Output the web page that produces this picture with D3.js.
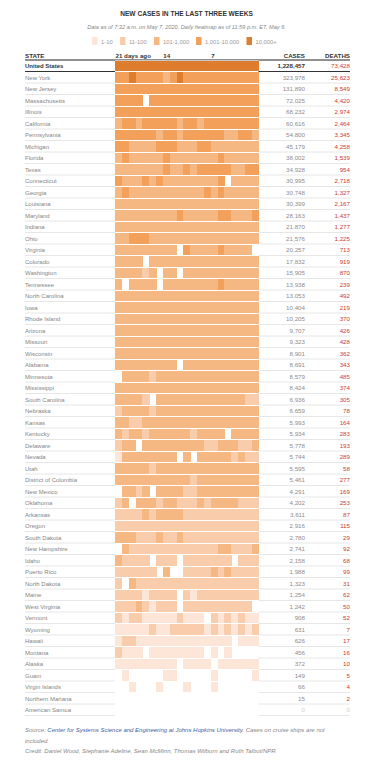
<!DOCTYPE html>
<html><head><meta charset="utf-8">
<script src="https://cdn.jsdelivr.net/npm/d3@7"></script>
<style>
body{margin:0;background:#fff}
svg{display:block}
text{font-family:"Liberation Sans",Arial,Helvetica,sans-serif}
</style>
</head><body>
<svg id="chart" width="373" height="773"></svg>
<script>
// ---------------- DATA ----------------
const titleText = "NEW CASES IN THE LAST THREE WEEKS";
const subtitleText = "Data as of 7:32 a.m. on May 7, 2020. Daily heatmap as of 11:59 p.m. ET, May 6.";
const legendLabels = ["1-10", "11-100", "101-1,000", "1,001-10,000", "10,000+"];
const levelColors = ["#fde6d8", "#f9cdab", "#f6b883", "#f3a05b", "#df7d2e"];
const dayTickIndex = [0, 7, 14];
const dayTickLabels = ["21 days ago", "14", "7"];

const usName = "United States";
const usCases = 1228457;
const usDeaths = 73428;
const usHeat = "5555555 5555555 5555555";

const states = ["New York","New Jersey","Massachusetts","Illinois","California","Pennsylvania","Michigan","Florida","Texas","Connecticut","Georgia","Louisiana","Maryland","Indiana","Ohio","Virginia","Colorado","Washington","Tennessee","North Carolina","Iowa","Rhode Island","Arizona","Missouri","Wisconsin","Alabama","Minnesota","Mississippi","South Carolina","Nebraska","Kansas","Kentucky","Delaware","Nevada","Utah","District of Columbia","New Mexico","Oklahoma","Arkansas","Oregon","South Dakota","New Hampshire","Idaho","Puerto Rico","North Dakota","Maine","West Virginia","Vermont","Wyoming","Hawaii","Montana","Alaska","Guam","Virgin Islands","Northern Mariana","American Samoa"];

const cases = [323978,131890,72025,68232,60616,54800,45179,38002,34928,30995,30748,30399,28163,21870,21576,20257,17832,15905,13938,13053,10404,10205,9707,9323,8901,8691,8579,8424,6936,6659,5993,5934,5778,5744,5595,5461,4291,4202,3611,2916,2780,2741,2158,1988,1323,1254,1242,908,631,626,456,372,149,66,15,0];

const deaths = [25623,8549,4420,2974,2464,3345,4258,1539,954,2718,1327,2167,1437,1277,1225,713,919,870,239,492,219,370,426,428,362,343,485,374,305,78,164,283,193,289,58,277,169,253,87,115,29,92,68,99,31,62,50,52,7,17,16,10,5,4,2,0];

// daily heat level per state, 21 days (oldest first); 0 = no new cases, 1..5 = legend bins
const heat = [
 "4454444 3454444 4444444", // New York
 "4444444 4444444 4444444", // New Jersey
 "4444044 4444444 4444444", // Massachusetts
 "4444444 4444444 4444444", // Illinois
 "3443444 4434434 4444444", // California
 "4444443 4434444 4433443", // Pennsylvania
 "4433334 4433344 3333333", // Michigan
 "3433333 4333333 3433333", // Florida
 "3333333 4334344 4443344", // Texas
 "4333434 3333333 3403333", // Connecticut
 "3433333 3333334 3433333", // Georgia
 "3333333 3333333 3333333", // Louisiana
 "3333333 3343333 3443334", // Maryland
 "3333333 3333333 3333333", // Indiana
 "3344433 3333333 3333333", // Ohio
 "3333333 3304333 3433330", // Virginia
 "3333033 3333333 3333333", // Colorado
 "3333230 3303333 3333333", // Washington
 "3033330 3333333 3433333", // Tennessee
 "3333333 3333333 3333333", // North Carolina
 "3333333 3333333 3333333", // Iowa
 "3333333 3333333 3333333", // Rhode Island
 "3333333 3333333 3333333", // Arizona
 "3333333 3333333 3333333", // Missouri
 "3333333 3333333 3333333", // Wisconsin
 "3333333 3303333 3333333", // Alabama
 "0333323 3333333 3333333", // Minnesota
 "3333333 3333333 3333333", // Mississippi
 "3333203 3333333 3333322", // South Carolina
 "2333323 3333333 3333333", // Nebraska
 "3322333 3333333 3333333", // Kansas
 "3233233 3333233 3303333", // Kentucky
 "2330333 3333332 2333223", // Delaware
 "1333333 3303033 3332322", // Nevada
 "3333323 3333333 3333333", // Utah
 "3333333 3333233 3333333", // District of Columbia
 "0332303 3332233 3333333", // New Mexico
 "2303332 3322232 3333222", // Oklahoma
 "2222323 3332222 2222222", // Arkansas
 "2222222 2222222 2222222", // Oregon
 "3332223 2232222 2222222", // South Dakota
 "0322222 2222222 2332223", // New Hampshire
 "3222202 2202222 2220222", // Idaho
 "2222220 3002222 3232222", // Puerto Rico
 "2032222 2222222 2222222", // North Dakota
 "2222122 2202122 2222222", // Maine
 "2223212 2202222 2222220", // West Virginia
 "2122111 1121110 2121211", // Vermont
 "1111121 1222221 2121212", // Wyoming
 "1221111 1111111 1110111", // Hawaii
 "2111011 1111110 1010000", // Montana
 "1111111 1101111 0111111", // Alaska
 "0100000 1100000 1000001", // Guam
 "0010001 0001000 1000000", // Virgin Islands
 "0000000 0000000 0000000", // Northern Mariana
 "0000000 0000000 0000000"  // American Samoa
];

const sourceLabel = "Source: ";
const sourceLink = "Center for Systems Science and Engineering at Johns Hopkins University";
const sourceRest = ". Cases on cruise ships are not";
const sourceRest2 = "included.";
const creditText = "Credit: Daniel Wood, Stephanie Adeline, Sean McMinn, Thomas Wilburn and Ruth Talbot/NPR";

// ---------------- DRAW ----------------
const svg = d3.select("#chart");
const parse = s => s.replace(/\s/g, "").split("").map(Number);
const fmt = d3.format(",");
const days = d3.range(21);

const L = 25, R = 350, casesX = 305;
const x = d3.scaleBand().domain(days).range([115, 258.5]).padding(0);
const y = d3.scaleBand().domain(states).range([72, 716]).padding(0);
const color = d3.scaleOrdinal().domain([1,2,3,4,5]).range(levelColors);
const bw = y.bandwidth();

// title
svg.append("text").attr("x", 186.5).attr("y", 16).attr("text-anchor", "middle")
  .style("font-family", "'Liberation Sans Narrow','Liberation Sans',Arial,sans-serif")
  .attr("font-weight", "bold").attr("font-size", 6.6).attr("fill", "#333").text(titleText);
svg.append("text").attr("x", 186.5).attr("y", 28.5).attr("text-anchor", "middle")
  .attr("font-style", "italic").attr("font-size", 5.6).attr("fill", "#888").text(subtitleText);

// legend
const legX = [92, 120, 154, 196, 246.5];
const leg = svg.append("g");
legendLabels.forEach((lab, i) => {
  leg.append("rect").attr("x", legX[i]).attr("y", 37).attr("width", 5.5).attr("height", 8)
    .attr("fill", color(i + 1));
  leg.append("text").attr("x", legX[i] + 9).attr("y", 43.5).attr("font-size", 5.8)
    .attr("fill", "#999").text(lab);
});

// header
const hdrFont = "'Liberation Sans Narrow','Liberation Sans',Arial,sans-serif";
const hdr = svg.append("g").style("font-family", hdrFont).attr("font-weight", "bold")
  .attr("font-size", 6.2).attr("fill", "#333");
hdr.append("text").attr("x", L).attr("y", 58).text("STATE");
hdr.selectAll(".dt").data(dayTickIndex).enter().append("text")
  .attr("x", d => x(d) + 0.5).attr("y", 58).text((d, i) => dayTickLabels[i]);
hdr.append("text").attr("x", casesX).attr("y", 58).attr("text-anchor", "end").text("CASES");
hdr.append("text").attr("x", R).attr("y", 58).attr("text-anchor", "end").text("DEATHS");

// row separators
svg.selectAll(".sep").data(states).enter().append("line")
  .attr("x1", L).attr("x2", R)
  .attr("y1", d => y(d) + bw - 0.5).attr("y2", d => y(d) + bw - 0.5)
  .attr("stroke", "#e6e6e6").attr("stroke-width", 1);
svg.append("line").attr("x1", L).attr("x2", R).attr("y1", 60).attr("y2", 60)
  .attr("stroke", "#222").attr("stroke-width", 1);
svg.append("line").attr("x1", L).attr("x2", R).attr("y1", 71.5).attr("y2", 71.5)
  .attr("stroke", "#333").attr("stroke-width", 1);

// white backing under heatmap
svg.append("rect").attr("x", 115).attr("y", 60.5).attr("width", 143.5).attr("height", 716 - 60.5)
  .attr("fill", "#fff");

// US heat row
const usCells = parse(usHeat).map((v, i) => ({d: i, v}));
svg.append("g").attr("shape-rendering", "crispEdges").selectAll("rect")
  .data(usCells.filter(c => c.v > 0)).enter().append("rect")
  .attr("x", c => x(c.d)).attr("width", x.bandwidth() + 0.5)
  .attr("y", 60.5).attr("height", 10.5).attr("fill", c => color(c.v));

// state heat rows
const cellData = [];
states.forEach((s, r) => parse(heat[r]).forEach((v, i) => { if (v > 0) cellData.push({s, d: i, v}); }));
svg.append("g").attr("shape-rendering", "crispEdges").selectAll("rect").data(cellData).enter().append("rect")
  .attr("x", c => x(c.d)).attr("width", x.bandwidth() + 0.5)
  .attr("y", c => y(c.s)).attr("height", bw - 1)
  .attr("fill", c => color(c.v));

// US text
svg.append("text").attr("x", L).attr("y", 68).attr("font-size", 6).attr("font-weight", "bold")
  .attr("fill", "#333").text(usName);
svg.append("text").attr("x", casesX).attr("y", 68).attr("text-anchor", "end").attr("font-size", 6.2)
  .attr("font-weight", "bold").attr("fill", "#333").text(fmt(usCases));
svg.append("text").attr("x", R).attr("y", 68).attr("text-anchor", "end").attr("font-size", 6.2)
  .attr("fill", "#cc3b30").text(fmt(usDeaths));

// state text
const rows = svg.append("g").selectAll("g").data(states).enter().append("g")
  .attr("transform", d => `translate(0,${y(d) + bw / 2 + 2})`);
rows.append("text").attr("x", L).attr("font-size", 6).attr("fill", "#858585").text(d => d);
rows.append("text").attr("x", casesX).attr("text-anchor", "end").attr("font-size", 6.2)
  .attr("fill", (d, i) => cases[i] === 0 ? "#d0d0d0" : "#8c8c8c").text((d, i) => fmt(cases[i]));
rows.append("text").attr("x", R).attr("text-anchor", "end").attr("font-size", 6.2)
  .attr("fill", (d, i) => deaths[i] === 0 ? "#d0d0d0" : "#cc3b30").text((d, i) => fmt(deaths[i]));

// footer
const f1 = svg.append("text").attr("x", L).attr("y", 732).attr("font-size", 6)
  .attr("font-style", "italic").attr("fill", "#888");
f1.append("tspan").text(sourceLabel);
f1.append("tspan").attr("fill", "#3b64a8").text(sourceLink);
f1.append("tspan").text(sourceRest);
svg.append("text").attr("x", L).attr("y", 742.5).attr("font-size", 6)
  .attr("font-style", "italic").attr("fill", "#888").text(sourceRest2);
svg.append("text").attr("x", L).attr("y", 753).attr("font-size", 6)
  .attr("font-style", "italic").attr("fill", "#888").text(creditText);
</script>
</body></html>
